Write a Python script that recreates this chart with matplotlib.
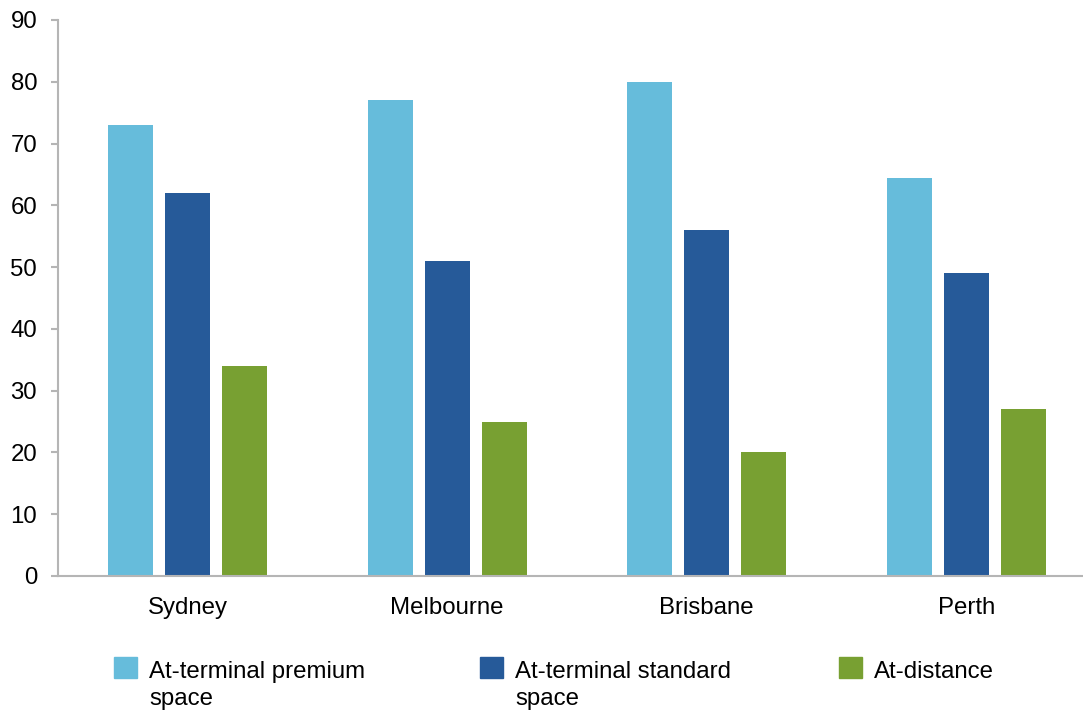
import numpy as np
import matplotlib.pyplot as plt
from matplotlib.patches import Rectangle

plt.rcParams['font.family'] = ['Liberation Sans', 'DejaVu Sans']

cities = ['Sydney', 'Melbourne', 'Brisbane', 'Perth']
series = ['At-terminal premium\nspace', 'At-terminal standard\nspace', 'At-distance']
premium = [73, 77, 80, 64.5]
standard = [62, 51, 56, 49]
distance = [34, 25, 20, 27]
colors = ['#66BCDB', '#265A99', '#78A032']

fs = 17.3

fig = plt.figure(figsize=(10.83, 7.11), dpi=100)
ax = fig.add_axes([58 / 1083, 135 / 711, 1 - 58 / 1083, 556 / 711])

x = np.arange(len(cities))
w = 0.174
off = 0.22
for i, vals in enumerate([premium, standard, distance]):
    ax.bar(x + (i - 1) * off, vals, width=w, color=colors[i], linewidth=0)

ax.set_xlim(-0.5, 3.45)
ax.set_ylim(0, 90)
ax.set_yticks(range(0, 91, 10))
ax.set_xticks(x)
ax.set_xticklabels(cities)

for s in ['top', 'right']:
    ax.spines[s].set_visible(False)
for s in ['left', 'bottom']:
    ax.spines[s].set_color('#B5B5B5')
    ax.spines[s].set_linewidth(1.5)
ax.tick_params(axis='y', length=5, width=1.5, color='#B5B5B5', pad=10, labelsize=fs)
ax.tick_params(axis='x', length=0, pad=15, labelsize=fs)

# legend drawn by hand so the square lines up with the first text line
leg_x = [114, 480, 839]
for lx, lab, c in zip(leg_x, series, colors):
    fig.patches.append(Rectangle((lx / 1083, 1 - 678 / 711), 23 / 1083, 21 / 711,
                                 transform=fig.transFigure, color=c))
    fig.text((lx + 35) / 1083, 1 - 661 / 711, lab, fontsize=fs, va='top',
             ha='left', linespacing=1.3)

fig.savefig('out.png', dpi=100)
